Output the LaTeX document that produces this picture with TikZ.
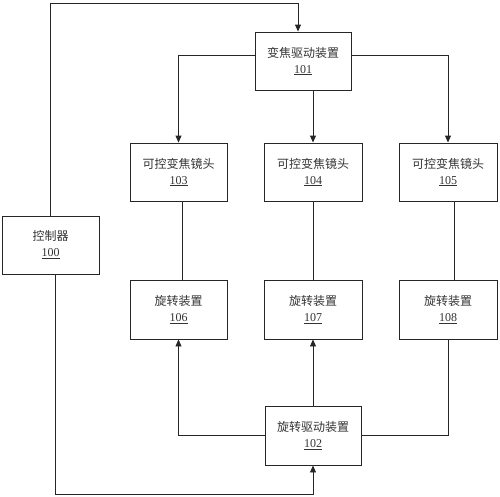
\documentclass[tikz,border=0pt]{standalone}
\usepackage{fontspec}
\setmainfont{Liberation Serif}
\newfontfamily\cjk{Noto Sans CJK SC}
\usetikzlibrary{arrows.meta}
\begin{document}
\begin{tikzpicture}[x=1pt,y=-1pt,
  box/.style={draw=black!85,line width=0.9pt,align=center,font=\fontsize{12}{16}\selectfont,text=black!80,inner sep=0pt},
  conn/.style={draw=black!85,line width=0.9pt},
  arr/.style={conn,-{Triangle[length=7pt,width=6pt]}}]
\useasboundingbox (0,0) rectangle (500,496);
\node[box,minimum width=96pt,minimum height=58pt] (n101) at (303,61) {{\cjk 变焦驱动装置}\\\underline{101}};
\node[box,minimum width=97pt,minimum height=58pt] (n103) at (178.5,172) {{\cjk 可控变焦镜头}\\\underline{103}};
\node[box,minimum width=98pt,minimum height=58pt] (n104) at (313,172) {{\cjk 可控变焦镜头}\\\underline{104}};
\node[box,minimum width=98pt,minimum height=58pt] (n105) at (448,172) {{\cjk 可控变焦镜头}\\\underline{105}};
\node[box,minimum width=97pt,minimum height=59pt] (n106) at (178.5,309.5) {{\cjk 旋转装置}\\\underline{106}};
\node[box,minimum width=98pt,minimum height=59pt] (n107) at (313,309.5) {{\cjk 旋转装置}\\\underline{107}};
\node[box,minimum width=98pt,minimum height=59pt] (n108) at (448,309.5) {{\cjk 旋转装置}\\\underline{108}};
\node[box,minimum width=97pt,minimum height=58pt] (n100) at (50.5,245) {{\cjk 控制器}\\\underline{100}};
\node[box,minimum width=96pt,minimum height=59pt] (n102) at (313,435.5) {{\cjk 旋转驱动装置}\\\underline{102}};
\coordinate (top) at (298,3);
\coordinate (bot) at (313,494);
% controller to 101
\draw[arr] (n100.north) -- (n100.north |- top) -| ([xshift=-5pt]n101.north);
% 101 to lenses
\draw[arr] ([yshift=6pt]n101.west) -| (n103.north);
\draw[arr] ([xshift=10pt]n101.south) -- (n104.north);
\draw[arr] ([yshift=6pt]n101.east) -| (n105.north);
% lenses to rotators
\draw[conn] ([xshift=3.5pt]n103.south) -- ([xshift=3.5pt]n106.north);
\draw[conn] (n104.south) -- (n107.north);
\draw[conn] ([xshift=6pt]n105.south) -- ([xshift=6pt]n108.north);
% controller to 102
\draw[arr] ([xshift=4.5pt]n100.south) |- (bot) -- (n102.south);
% 102 to rotators
\draw[arr] (n102.west) -| (n106.south);
\draw[arr] (n102.north) -- (n107.south);
\draw[conn] (n102.east) -| (n108.south);
\end{tikzpicture}
\end{document}
